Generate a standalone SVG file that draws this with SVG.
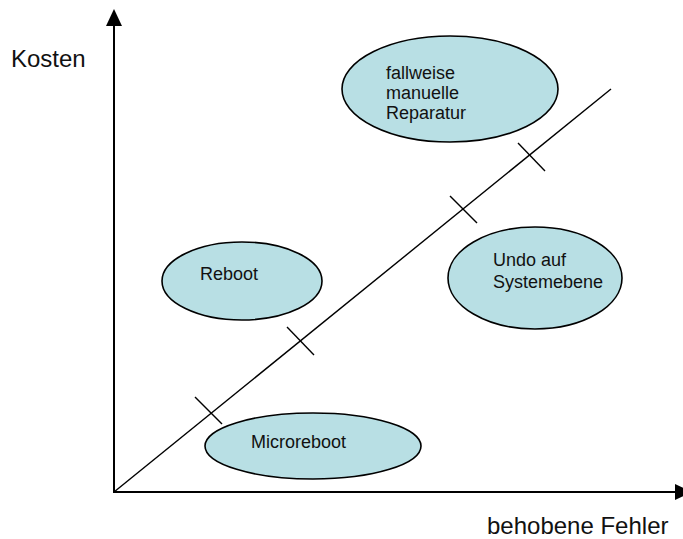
<svg xmlns="http://www.w3.org/2000/svg" width="683" height="539" viewBox="0 0 683 539">
  <style>
    .bubble { fill: #b8dfe4; stroke: #000; stroke-width: 1.6; }
    .label { font-family: "Liberation Sans", Arial, sans-serif; font-size: 18px; fill: #111; }
    .axis-label { font-family: "Liberation Sans", Arial, sans-serif; font-size: 24px; fill: #111; }
    .axis { stroke: #000; stroke-width: 2; fill: none; }
    .thin { stroke: #000; stroke-width: 1.4; fill: none; }
  </style>
  <rect width="683" height="539" fill="#fff"/>

  <!-- axes and trend line -->
  <g id="connectors">
    <line class="axis" x1="114" y1="492" x2="114" y2="24"/>
    <polygon points="114,9 106,26 122,26" fill="#000"/>
    <line class="axis" x1="113" y1="492" x2="677" y2="492"/>
    <polygon points="675,484 692,492 675,500" fill="#000"/>
    <line class="thin" x1="114" y1="492" x2="611" y2="89"/>
    <!-- tick marks across the trend line -->
    <line class="thin" x1="518" y1="143" x2="545" y2="171"/>
    <line class="thin" x1="450" y1="196" x2="477" y2="223"/>
    <line class="thin" x1="287" y1="327" x2="314" y2="355"/>
    <line class="thin" x1="195" y1="397" x2="222" y2="424"/>
  </g>

  <g id="axis-y-label">
    <text class="axis-label" x="11" y="67">Kosten</text>
  </g>
  <g id="axis-x-label">
    <text class="axis-label" x="487" y="534">behobene Fehler</text>
  </g>

  <g id="node-reparatur">
    <ellipse class="bubble" cx="450" cy="89" rx="108" ry="53"/>
    <text class="label" x="386" y="79">fallweise</text>
    <text class="label" x="386" y="99">manuelle</text>
    <text class="label" x="386" y="119">Reparatur</text>
  </g>

  <g id="node-reboot">
    <ellipse class="bubble" cx="242" cy="281" rx="80" ry="39"/>
    <text class="label" x="200" y="280">Reboot</text>
  </g>

  <g id="node-undo">
    <ellipse class="bubble" cx="535" cy="278" rx="87" ry="51"/>
    <text class="label" x="493" y="266">Undo auf</text>
    <text class="label" x="493" y="288">Systemebene</text>
  </g>

  <g id="node-microreboot">
    <ellipse class="bubble" cx="313" cy="446" rx="108" ry="33"/>
    <text class="label" x="251" y="448">Microreboot</text>
  </g>
</svg>
